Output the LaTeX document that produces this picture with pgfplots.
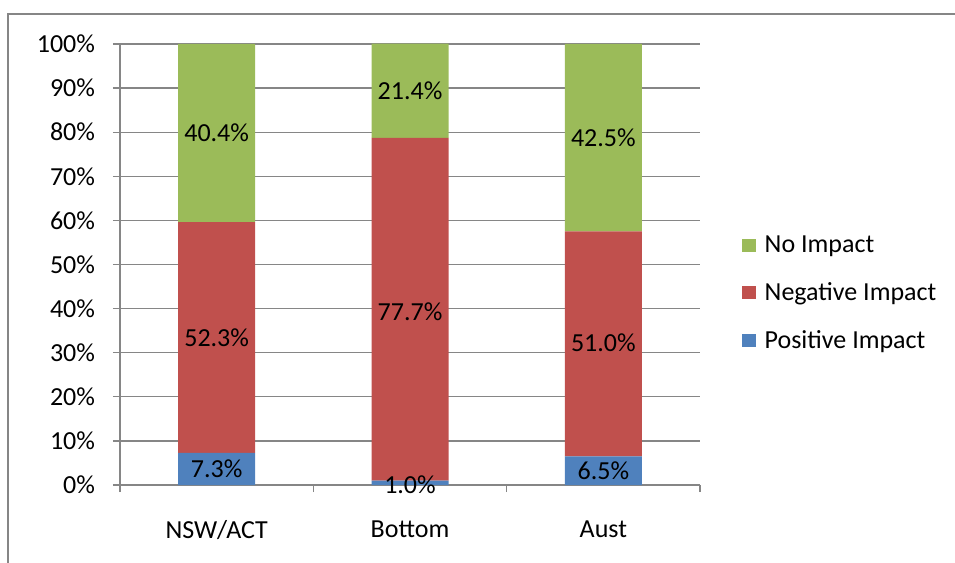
\documentclass[border=0pt]{standalone}
\usepackage{pgfplots}
\pgfplotsset{compat=1.18}
\usepackage{fontspec}
\setmainfont{Carlito}
\definecolor{cgreen}{HTML}{9BBB59}
\definecolor{cred}{HTML}{C0504D}
\definecolor{cblue}{HTML}{4F81BD}
\definecolor{cgrid}{HTML}{868686}
\newcommand{\cf}{\fontsize{19.5}{23}\selectfont}
\begin{document}
\begin{tikzpicture}[font=\cf]
\useasboundingbox (0,0) rectangle (716.25pt,422.25pt);
\draw[cgrid, line width=1.5pt] (6pt,0pt) -- (6pt,411.75pt) -- (716.25pt,411.75pt);
\begin{axis}[
  at={(90pt,58.5pt)}, anchor=south west,
  scale only axis, width=435pt, height=330.75pt,
  ybar stacked, bar width=57.75pt,
  xmin=-0.5, xmax=2.5, ymin=0, ymax=100,
  axis x line=bottom, axis y line=left,
  axis line style={-, cgrid, line width=1pt},
  ytick={0,10,...,100},
  yticklabel={\pgfmathprintnumber{\tick}\%},
  ymajorgrids, grid style={cgrid, line width=1pt},
  tick align=outside, major tick length=5.25pt,
  tick style={cgrid, line width=1pt},
  xtick={-0.5,0.5,1.5,2.5}, xticklabels={},
  extra x ticks={0,1,2},
  extra x tick labels={NSW/ACT,Bottom,Aust},
  extra x tick style={major tick length=0pt, grid=none,
     xticklabel style={yshift=-23pt}},
  /pgf/number format/assume math mode=true,
  ticklabel style={font=\cf},
  yticklabel style={xshift=-10pt},
  legend cell align=left,
  legend style={at={(1.072,0.435)}, anchor=west, draw=none, fill=none,
     font=\cf, row sep=17pt, inner sep=0pt},
  legend image code/.code={\fill[#1] (0pt,-5pt) rectangle (10.5pt,5pt); \path (15pt,0pt);},
  reverse legend,
]
\addplot[fill=cblue, draw=none] coordinates {(0,7.3) (1,1.0) (2,6.5)};
\addlegendentry{Positive Impact}
\addplot[fill=cred, draw=none] coordinates {(0,52.3) (1,77.7) (2,51.0)};
\addlegendentry{Negative Impact}
\addplot[fill=cgreen, draw=none] coordinates {(0,40.4) (1,21.4) (2,42.5)};
\addlegendentry{No Impact}
\end{axis}
\begin{axis}[
  at={(90pt,58.5pt)}, anchor=south west,
  scale only axis, width=435pt, height=330.75pt,
  xmin=-0.5, xmax=2.5, ymin=0, ymax=100,
  hide axis, clip=false,
]
\addplot[only marks, mark=none, draw=none,
  point meta=explicit symbolic,
  nodes near coords={\pgfplotspointmeta\%},
  every node near coord/.append style={anchor=center, font=\cf, text=black}]
  table[meta=label] {
x y label
0 3.65 7.3
0 33.45 52.3
0 79.8 40.4
1 0.0 1.0
1 39.35 77.7
1 89.35 21.4
2 3.25 6.5
2 32.25 51.0
2 78.75 42.5
};
\end{axis}
\end{tikzpicture}
\end{document}
